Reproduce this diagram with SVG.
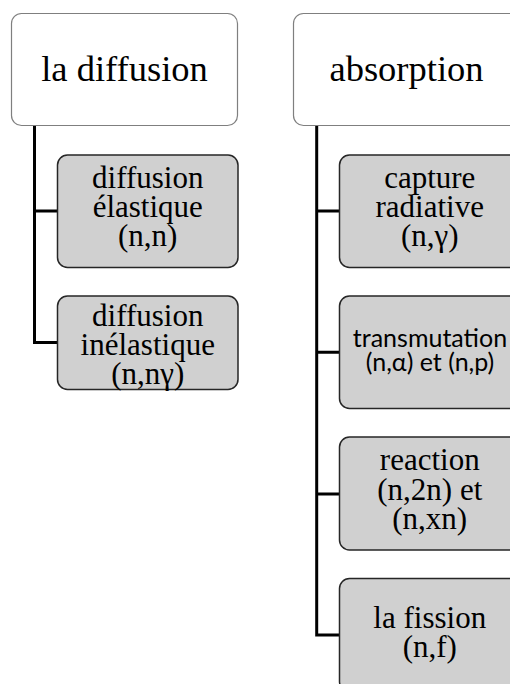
<svg xmlns="http://www.w3.org/2000/svg" width="510" height="684" viewBox="0 0 510 684">
  <style>
    .head { fill: #ffffff; stroke: #7f7f7f; stroke-width: 1.2; }
    .leaf { fill: #d0d0d0; stroke: #262626; stroke-width: 1.5; }
    .link { fill: none; stroke: #000000; stroke-width: 3; }
    .serif { font-family: "Liberation Serif", Tinos, "Times New Roman", Times, "Noto Serif", "Nimbus Roman", "Nimbus Roman No9 L", FreeSerif, "DejaVu Serif", serif; }
    .t-head { font-size: 36.5px; fill: #000; text-anchor: middle; }
    .t-leaf { font-size: 31px; fill: #000; text-anchor: middle; }
    .t-sans { font-family: Lato, "Open Sans", "Liberation Sans", sans-serif; font-size: 25px; fill: #000; text-anchor: middle; }
  </style>
  <rect width="510" height="684" fill="#ffffff"/>

  <!-- connectors -->
  <g id="connectors">
    <path class="link" d="M34.5,125.5 V342.5 M33,211 H57.5 M33,342.5 H57.5"/>
    <path class="link" d="M316.7,125.5 V635 M315.2,211 H339.5 M315.2,352.3 H339.5 M315.2,494 H339.5 M315.2,635 H339.5"/>
  </g>

  <g class="serif">
    <!-- left column -->
    <g id="node-diffusion">
      <rect class="head" x="11.5" y="13.5" width="226" height="112" rx="10"/>
      <text class="t-head" x="124.5" y="81">la diffusion</text>
    </g>
    <g id="node-elastique">
      <rect class="leaf" x="57.5" y="155" width="180.5" height="112.5" rx="10"/>
      <text class="t-leaf" x="147.75" y="188">diffusion</text>
      <text class="t-leaf" x="147.75" y="217">élastique</text>
      <text class="t-leaf" x="147.75" y="246">(n,n)</text>
    </g>
    <g id="node-inelastique">
      <rect class="leaf" x="57.5" y="296" width="180.5" height="93.5" rx="10"/>
      <text class="t-leaf" x="147.75" y="326">diffusion</text>
      <text class="t-leaf" x="147.75" y="355">inélastique</text>
      <text class="t-leaf" x="147.75" y="384">(n,nγ)</text>
    </g>

    <!-- right column -->
    <g id="node-absorption">
      <rect class="head" x="293.5" y="13.5" width="226" height="112" rx="10"/>
      <text class="t-head" x="406.5" y="81">absorption</text>
    </g>
    <g id="node-capture">
      <rect class="leaf" x="339.5" y="155" width="180.5" height="112.5" rx="10"/>
      <text class="t-leaf" x="429.75" y="188">capture</text>
      <text class="t-leaf" x="429.75" y="217">radiative</text>
      <text class="t-leaf" x="429.75" y="246">(n,γ)</text>
    </g>
    <g id="node-transmutation">
      <rect class="leaf" x="339.5" y="296" width="180.5" height="112.5" rx="10"/>
      <text class="t-sans" x="430" y="346.5">transmutation</text>
      <text class="t-sans" x="430" y="370.5">(n,α) et (n,p)</text>
    </g>
    <g id="node-reaction">
      <rect class="leaf" x="339.5" y="437" width="180.5" height="113" rx="10"/>
      <text class="t-leaf" x="429.75" y="470">reaction</text>
      <text class="t-leaf" x="429.75" y="500">(n,2n) et</text>
      <text class="t-leaf" x="429.75" y="529">(n,xn)</text>
    </g>
    <g id="node-fission">
      <rect class="leaf" x="339.5" y="578.5" width="180.5" height="113" rx="10"/>
      <text class="t-leaf" x="429.75" y="627.5">la fission</text>
      <text class="t-leaf" x="429.75" y="656.5">(n,f)</text>
    </g>
  </g>
</svg>
